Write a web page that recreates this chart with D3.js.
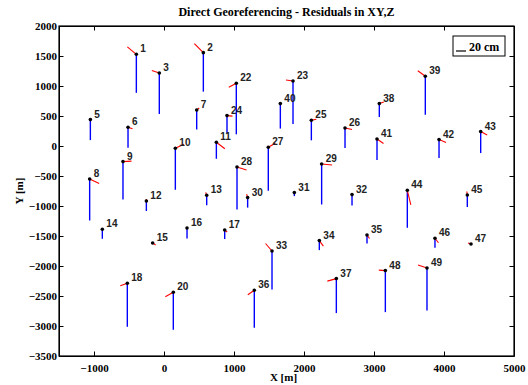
<!DOCTYPE html>
<html>
<head>
<meta charset="utf-8">
<script src="https://cdn.jsdelivr.net/npm/d3@7"></script>
<style>
  body { margin: 0; background: #fff; }
  svg { display: block; }
  .tick text { font-family: "Liberation Serif", "Times New Roman", serif; font-weight: bold; font-size: 11px; fill: #000; }
  .axis path, .axis line { stroke: #000; }
</style>
</head>
<body>
<div id="chart"></div>
<script>
// point ids and coordinates [m]
const ids = [1, 2, 3, 5, 6, 7, 8, 9, 10, 11, 12, 13, 14, 15, 16, 17, 18, 20, 22, 23, 24, 25, 26, 27, 28,
  29, 30, 31, 32, 33, 34, 35, 36, 37, 38, 39, 40, 41, 42, 43, 44, 45, 46, 47, 48, 49];
const ptX = [-395, 562, -67, -1052, -514, 467, -1062, -586, 162, 748, -252, 610, -881, -162, 329, 867, -524, 133, 1033, 1843, 900, 2105, 2586, 1490, 1043,
  2252, 1195, 1862, 2686, 1543, 2219, 2900, 1290, 2462, 3076, 3733, 1662, 3043, 3929, 4524, 3476, 4333, 3871, 4386, 3162, 3757];
const ptY = [1528, 1556, 1217, 440, 312, 600, -550, -260, -38, 62, -917, -822, -1388, -1617, -1367, -1400, -2288, -2438, 1045, 1083, 507, 428, 300, -22, -350,
  -300, -860, -777, -810, -1750, -1577, -1483, -2405, -2210, 707, 1162, 707, 117, 107, 240, -738, -817, -1538, -1633, -2077, -2033];
// residuals [cm]
const dE = [-18, -18, -15, 3, 9, 5, 19, 17, 17, 17, 0, -2, 0, 6, 0, 5, -14, -16, -15, -14, 11, 10, 14, 14, 19,
  21, -2, 0, 0, -13, 8, 5, -13, -18, 9, -15, 1, 13, 14, 13, 7, -1, 7, -6, -13, -18];
const dN = [15, 18, 5, 1, -3, 4, -9, 1, 8, -13, 4, 6, 2, -4, 2, -4, -5, -9, -8, 2, -1, 2, -3, 8, -6,
  -2, 7, 1, 0, 15, -11, -7, -9, -5, 3, 11, 1, -9, -6, -7, -29, 7, -9, 2, 1, 6];
const dZ = [-77, -78, -82, -41, -41, -39, -83, -76, -83, -33, -20, -20, -19, -1, -21, -18, -87, -75, -102, -86, -36, -40, -40, -87, -85,
  -81, -20, -7, -22, -77, -19, -17, -75, -69, -27, -77, -50, -42, -37, -43, -75, -24, -19, -1, -83, -85];

const xTicks = [-1000, 0, 1000, 2000, 3000, 4000, 5000];
const yTicks = [-3500, -3000, -2500, -2000, -1500, -1000, -500, 0, 500, 1000, 1500, 2000];
const legendCm = 20;

const W = 528, H = 385;
const m = { left: 59, right: 14, top: 26, bottom: 29 };
const iw = W - m.left - m.right, ih = H - m.top - m.bottom;

const svg = d3.select('#chart').append('svg')
  .attr('width', W).attr('height', H);

const x = d3.scaleLinear().domain([-1500, 5000]).range([0, iw]);
const y = d3.scaleLinear().domain([-3500, 2000]).range([ih, 0]);
// residual vectors: 20 cm -> 10 px
const r = d3.scaleLinear().domain([0, legendCm]).range([0, 10]);

const g = svg.append('g').attr('transform', `translate(${m.left},${m.top})`);
const fmt = d3.format('d');

// axes (MATLAB box, ticks inward)
const tl = 4.5;
g.append('g').attr('class', 'axis').attr('transform', `translate(0,${ih})`)
  .call(d3.axisBottom(x).tickValues(xTicks).tickFormat(fmt).tickSizeInner(-tl).tickSizeOuter(0).tickPadding(6))
  .call(a => a.selectAll('text').attr('dy', '0.9em'));
g.append('g').attr('class', 'axis')
  .call(d3.axisTop(x).tickValues(xTicks).tickSizeInner(-tl).tickSizeOuter(0).tickFormat(''));
g.append('g').attr('class', 'axis')
  .call(d3.axisLeft(y).tickValues(yTicks).tickFormat(fmt).tickSizeInner(-tl).tickSizeOuter(0).tickPadding(2));
g.append('g').attr('class', 'axis').attr('transform', `translate(${iw},0)`)
  .call(d3.axisRight(y).tickValues(yTicks).tickSizeInner(-tl).tickSizeOuter(0).tickFormat(''));
g.append('rect').attr('width', iw).attr('height', ih)
  .attr('fill', 'none').attr('stroke', '#000').attr('stroke-width', 1.2);

const pts = ids.map((id, i) => ({ id, x: ptX[i], y: ptY[i], e: dE[i], n: dN[i], z: dZ[i] }));

// Z residuals (blue)
g.append('g').selectAll('line').data(pts).join('line')
  .attr('x1', d => x(d.x)).attr('y1', d => y(d.y))
  .attr('x2', d => x(d.x)).attr('y2', d => y(d.y) + r(-d.z))
  .attr('stroke', '#0000ff').attr('stroke-width', 1.4);

// XY residuals (red)
g.append('g').selectAll('line').data(pts).join('line')
  .attr('x1', d => x(d.x)).attr('y1', d => y(d.y))
  .attr('x2', d => x(d.x) + r(d.e)).attr('y2', d => y(d.y) - r(d.n))
  .attr('stroke', '#ff0000').attr('stroke-width', 1.1);

g.append('g').selectAll('circle').data(pts).join('circle')
  .attr('cx', d => x(d.x)).attr('cy', d => y(d.y)).attr('r', 1.8)
  .attr('fill', '#000');

g.append('g').selectAll('text').data(pts).join('text')
  .attr('x', d => x(d.x) + 4).attr('y', d => y(d.y) - 2)
  .attr('font-family', '"Liberation Sans", Arial, sans-serif')
  .attr('font-weight', 'bold').attr('font-size', 10).attr('fill', '#222')
  .text(d => d.id);

// legend
const lg = g.append('g').attr('transform', `translate(${iw - 61},10)`);
lg.append('rect').attr('width', 52).attr('height', 20)
  .attr('fill', '#fff').attr('stroke', '#000').attr('stroke-width', 1);
lg.append('line').attr('x1', 3).attr('x2', 3 + r(legendCm)).attr('y1', 15).attr('y2', 15)
  .attr('stroke', '#000').attr('stroke-width', 1.2);
lg.append('text').attr('x', 16).attr('y', 15)
  .attr('font-family', '"Liberation Serif", "Times New Roman", serif')
  .attr('font-weight', 'bold').attr('font-size', 12)
  .text(`${legendCm} cm`);

// title and axis labels
const serif = '"Liberation Serif", "Times New Roman", serif';
svg.append('text').attr('x', m.left + iw / 2).attr('y', 16).attr('text-anchor', 'middle')
  .attr('font-family', serif).attr('font-weight', 'bold').attr('font-size', 12)
  .text('Direct Georeferencing - Residuals in XY,Z');
svg.append('text').attr('x', m.left + iw / 2 - 3).attr('y', 381).attr('text-anchor', 'middle')
  .attr('font-family', serif).attr('font-weight', 'bold').attr('font-size', 11)
  .text('X [m]');
svg.append('text').attr('transform', `translate(23,${m.top + ih / 2}) rotate(-90)`)
  .attr('text-anchor', 'middle')
  .attr('font-family', serif).attr('font-weight', 'bold').attr('font-size', 11)
  .text('Y [m]');
</script>
</body>
</html>
